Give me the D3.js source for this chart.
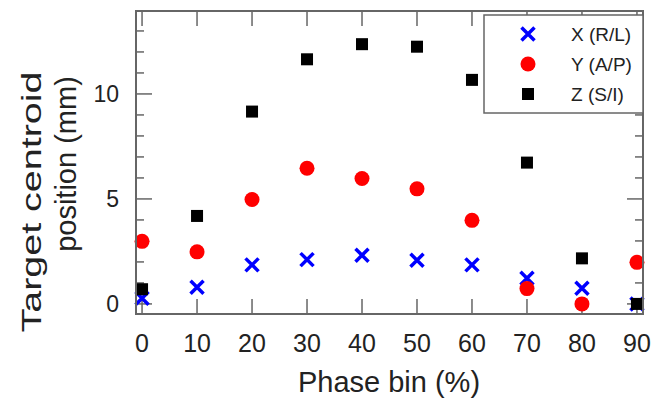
<!DOCTYPE html>
<html lang="en">
<head>
<meta charset="UTF-8">
<title>Target centroid position</title>
<script src="https://d3js.org/d3.v7.min.js"></script>
<style>
    body { margin: 0; background: #fff; }
    text { font-family: Arial, "Liberation Sans", sans-serif; fill: #222; }
</style>
</head>
<body>
<div id="chart"></div>
<script>
// phase bins (%)
const phaseBins = [0, 10, 20, 30, 40, 50, 60, 70, 80, 90];
// centroid positions (mm)
const xRL = [0.27, 0.79, 1.86, 2.11, 2.32, 2.08, 1.86, 1.22, 0.75, 0.0];
const yAP = [2.98, 2.48, 4.97, 6.46, 5.97, 5.48, 3.98, 0.73, 0.0, 1.98];
const zSI = [0.70, 4.19, 9.16, 11.65, 12.37, 12.25, 10.67, 6.73, 2.17, 0.0];
const seriesNames = ["X (R/L)", "Y (A/P)", "Z (S/I)"];
const xTicks = [0, 10, 20, 30, 40, 50, 60, 70, 80, 90];
const yTicks = [0, 5, 10];

const W = 665, H = 399;
const svg = d3.select("#chart").append("svg")
    .attr("width", W).attr("height", H);

const x = d3.scaleLinear().domain([-1.1, 91.1]).range([136, 643]);
const y = d3.scaleLinear().domain([-0.48, 13.95]).range([314, 11]);

const frameColor = "#666";

// ticks (inward, on all four sides)
const tickG = svg.append("g").attr("stroke", frameColor).attr("stroke-width", 1.5);
xTicks.forEach(t => {
    tickG.append("line").attr("x1", x(t)).attr("x2", x(t)).attr("y1", 314).attr("y2", 314 - 15);
    tickG.append("line").attr("x1", x(t)).attr("x2", x(t)).attr("y1", 11).attr("y2", 11 + 15);
});
d3.range(0, 14).forEach(t => {
    const len = t % 5 === 0 ? 16 : 8;
    tickG.append("line").attr("y1", y(t)).attr("y2", y(t)).attr("x1", 136).attr("x2", 136 + len);
    tickG.append("line").attr("y1", y(t)).attr("y2", y(t)).attr("x1", 643).attr("x2", 643 - len);
});

// tick labels
svg.append("g").selectAll("text").data(xTicks).join("text")
    .attr("x", d => x(d)).attr("y", 352)
    .attr("text-anchor", "middle")
    .style("font-size", "25px")
    .text(d => d);
svg.append("g").selectAll("text").data(yTicks).join("text")
    .attr("x", 119).attr("y", d => y(d) + 8)
    .attr("text-anchor", "end")
    .style("font-size", "23px")
    .text(d => d);

// axis titles
svg.append("text")
    .attr("x", 389).attr("y", 392)
    .attr("text-anchor", "middle")
    .style("font-size", "29px")
    .text("Phase bin (%)");
// y title: first line is stretched longer in the original
svg.append("text")
    .attr("transform", "translate(41,202) rotate(-90)")
    .attr("text-anchor", "middle")
    .attr("textLength", 261).attr("lengthAdjust", "spacingAndGlyphs")
    .style("font-size", "28px")
    .text("Target centroid");
svg.append("text")
    .attr("transform", "translate(76,164) rotate(-90)")
    .attr("text-anchor", "middle")
    .style("font-size", "29px")
    .text("position (mm)");

// markers
function drawCross(g, cx, cy, s) {
    g.append("path")
        .attr("d", `M${cx - s},${cy - s}L${cx + s},${cy + s}M${cx - s},${cy + s}L${cx + s},${cy - s}`)
        .attr("stroke", "#0000ff").attr("stroke-width", 3.5).attr("fill", "none");
}
const marks = svg.append("g");
phaseBins.forEach((p, i) => drawCross(marks, x(p), y(xRL[i]), 6.5));
marks.selectAll("circle").data(phaseBins).join("circle")
    .attr("cx", d => x(d)).attr("cy", (d, i) => y(yAP[i]))
    .attr("r", 7.5).attr("fill", "#ff0000");
marks.selectAll("rect").data(phaseBins).join("rect")
    .attr("x", d => x(d) - 6).attr("y", (d, i) => y(zSI[i]) - 6)
    .attr("width", 12).attr("height", 12).attr("fill", "#000");

// frame
svg.append("rect")
    .attr("x", 136).attr("y", 11).attr("width", 643 - 136).attr("height", 314 - 11)
    .attr("fill", "none").attr("stroke", frameColor).attr("stroke-width", 2);

// legend
const lg = svg.append("g");
lg.append("rect").attr("x", 484).attr("y", 15).attr("width", 159).attr("height", 98)
    .attr("fill", "#fff").attr("stroke", frameColor).attr("stroke-width", 1.5);
const rows = [34, 64, 94];
drawCross(lg, 528, rows[0], 6.5);
lg.append("circle").attr("cx", 528).attr("cy", rows[1]).attr("r", 7.5).attr("fill", "#ff0000");
lg.append("rect").attr("x", 522).attr("y", rows[2] - 6).attr("width", 12).attr("height", 12).attr("fill", "#000");
seriesNames.forEach((n, i) => {
    lg.append("text").attr("x", 571).attr("y", rows[i] + 7)
        .style("font-size", "19px").text(n);
});
</script>
</body>
</html>
